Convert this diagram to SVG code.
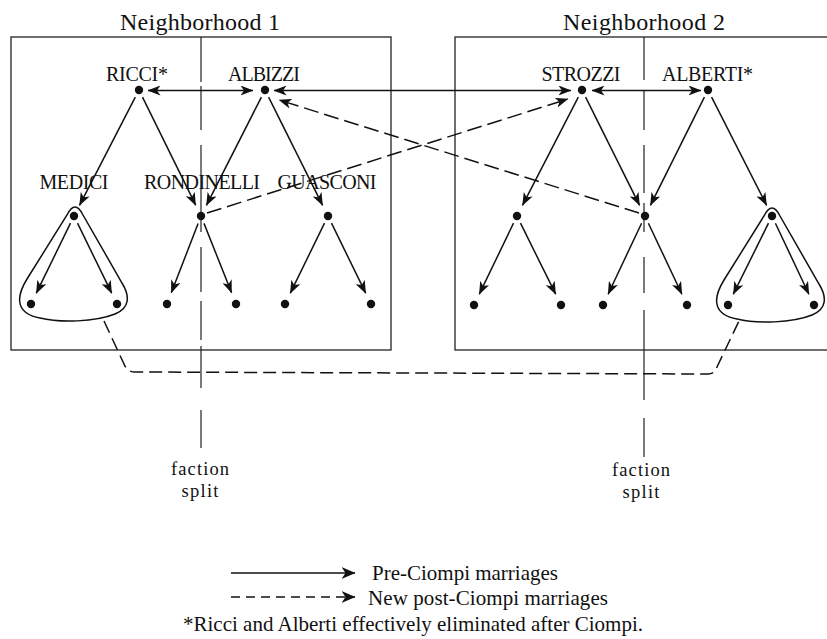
<svg xmlns="http://www.w3.org/2000/svg" width="827" height="639" viewBox="0 0 827 639">
<style>
  text { font-family: "Liberation Serif", "Times New Roman", serif; fill: #111; }
  .lbl { font-size: 20px; text-anchor: middle; }
  .fs { font-size: 18.5px; text-anchor: middle; }
  .title { font-size: 24px; text-anchor: middle; }
  .leg { font-size: 21px; }
  .dot { fill: #111; }
  .box { fill: none; stroke: #222; stroke-width: 1.3; }
  .split { fill: none; stroke: #222; stroke-width: 1.2; }
  .solid { fill: none; stroke: #111; stroke-width: 1.5; marker-end: url(#ah); }
  .both { fill: none; stroke: #111; stroke-width: 1.5; marker-start: url(#ah); marker-end: url(#ah); }
  .dash { fill: none; stroke: #111; stroke-width: 1.5; stroke-dasharray: 15 6; marker-end: url(#ah); }
  .dashlink { fill: none; stroke: #111; stroke-width: 1.5; stroke-dasharray: 13 6; }
  .loop { fill: none; stroke: #111; stroke-width: 1.5; }
</style>
<defs>
  <marker id="ah" viewBox="0 0 13 10" refX="12.5" refY="5" markerWidth="13" markerHeight="10" markerUnits="userSpaceOnUse" orient="auto-start-reverse">
    <path d="M0,0 L13,5 L0,10 L3.5,5 Z" fill="#111"/>
  </marker>
  <marker id="ahL" viewBox="0 0 14 12" refX="13.5" refY="6" markerWidth="14" markerHeight="12" markerUnits="userSpaceOnUse" orient="auto">
    <path d="M0,0 L14,6 L0,12 L4,6 Z" fill="#111"/>
  </marker>
  <path id="loopShape" d="M67,215 Q75,199 83,215 L122,283 C130,296 130,308 115,314 C95,322 60,323 40,318 C18,314 14,300 27,279 Z"/>
</defs>

<!-- Neighborhood boxes -->
<g id="neighborhood1">
  <rect class="box" x="11" y="37" width="380" height="313"/>
  <text class="title" x="200" y="30" textLength="160">Neighborhood 1</text>
</g>
<g id="neighborhood2">
  <rect class="box" x="455" y="37" width="380" height="313"/>
  <text class="title" x="644" y="30" textLength="162">Neighborhood 2</text>
</g>

<!-- Faction split lines -->
<g id="faction-split-1">
  <path class="split" d="M201,37 V82 M201,86 V130 M201,145 V232 M201,247 V292 M201,301 V340 M201,346 V388 M201,410 V448"/>
  <text class="fs" x="200" y="475" textLength="58">faction</text>
  <text class="fs" x="200" y="497" textLength="37">split</text>
</g>
<g id="faction-split-2">
  <path class="split" d="M644,37 V80 M644,90 V130 M644,145 V193 M644,203 V232 M644,257 V293 M644,310 V400 M644,418 V457"/>
  <text class="fs" x="641" y="476" textLength="58">faction</text>
  <text class="fs" x="641" y="498" textLength="37">split</text>
</g>

<!-- Connectors -->
<g id="connectors">
  <!-- top row marriages -->
  <path class="both" d="M148,90.5 H253"/>
  <path class="both" d="M274,90.5 H571"/>
  <path class="both" d="M592,90.5 H701"/>
  <!-- top to middle -->
  <path class="solid" d="M135.3,97.1 L79.5,205.3"/>
  <path class="solid" d="M142.5,97.2 L195.7,205.2"/>
  <path class="solid" d="M261.4,97.1 L206.4,205.3"/>
  <path class="solid" d="M268.6,97.2 L322.6,205.3"/>
  <path class="solid" d="M578.3,97.1 L522.5,205.3"/>
  <path class="solid" d="M585.6,97.2 L639.6,205.3"/>
  <path class="solid" d="M704.4,97.2 L650.4,205.3"/>
  <path class="solid" d="M711.6,97.1 L766.6,205.3"/>
  <!-- middle to bottom -->
  <path class="solid" d="M70.5,223.2 L36.3,293.2"/>
  <path class="solid" d="M77.5,223.2 L111.7,293.2"/>
  <path class="solid" d="M198.1,223.5 L171.3,292.8"/>
  <path class="solid" d="M204,223.4 L231.6,292.8"/>
  <path class="solid" d="M324.5,223.2 L290.3,293.2"/>
  <path class="solid" d="M331.5,223.2 L365.7,293.2"/>
  <path class="solid" d="M513.5,223.2 L479.3,294.2"/>
  <path class="solid" d="M520.5,223.2 L555.7,294.2"/>
  <path class="solid" d="M641.6,223.2 L608.1,294.2"/>
  <path class="solid" d="M648.4,223.2 L681.9,294.2"/>
  <path class="solid" d="M768.5,223.2 L733.3,294.2"/>
  <path class="solid" d="M775.4,223.2 L808.9,294.2"/>
  <!-- new post-Ciompi marriages -->
  <path class="dash" d="M207,213 L568,99"/>
  <path class="dash" d="M639,213 L279,100"/>
  <path class="dashlink" d="M104,321 L124,364 Q127,372 135,372 L708,374 Q715,374 717,367 L739,321"/>
</g>

<!-- Nodes -->
<g id="ricci">
  <circle class="dot" cx="139" cy="90" r="4.2"/>
  <text class="lbl" x="106" y="81" style="text-anchor:start" textLength="62">RICCI*</text>
</g>
<g id="albizzi">
  <circle class="dot" cx="265" cy="90" r="4.2"/>
  <text class="lbl" x="264" y="81" textLength="72">ALBIZZI</text>
</g>
<g id="strozzi">
  <circle class="dot" cx="582" cy="90" r="4.2"/>
  <text class="lbl" x="581" y="81" textLength="79">STROZZI</text>
</g>
<g id="alberti">
  <circle class="dot" cx="708" cy="90" r="4.2"/>
  <text class="lbl" x="662" y="81" style="text-anchor:start" textLength="91">ALBERTI*</text>
</g>
<g id="medici">
  <use href="#loopShape" class="loop"/>
  <circle class="dot" cx="74" cy="216" r="4.2"/>
  <text class="lbl" x="74" y="189" textLength="69">MEDICI</text>
  <circle class="dot" cx="31" cy="304" r="4.2"/>
  <circle class="dot" cx="117" cy="304" r="4.2"/>
</g>
<g id="rondinelli">
  <circle class="dot" cx="201" cy="216" r="4.2"/>
  <text class="lbl" x="202" y="189" textLength="116">RONDINELLI</text>
  <circle class="dot" cx="167" cy="304" r="4.2"/>
  <circle class="dot" cx="236" cy="304" r="4.2"/>
</g>
<g id="guasconi">
  <circle class="dot" cx="328" cy="216" r="4.2"/>
  <text class="lbl" x="327" y="189" textLength="99">GUASCONI</text>
  <circle class="dot" cx="285" cy="304" r="4.2"/>
  <circle class="dot" cx="371" cy="304" r="4.2"/>
</g>
<g id="strozzi-child1">
  <circle class="dot" cx="517" cy="216" r="4.2"/>
  <circle class="dot" cx="474" cy="305" r="4.2"/>
  <circle class="dot" cx="561" cy="305" r="4.2"/>
</g>
<g id="strozzi-alberti-child">
  <circle class="dot" cx="645" cy="216" r="4.2"/>
  <circle class="dot" cx="603" cy="305" r="4.2"/>
  <circle class="dot" cx="687" cy="305" r="4.2"/>
</g>
<g id="alberti-child">
  <use href="#loopShape" class="loop" transform="translate(697,1)"/>
  <circle class="dot" cx="772" cy="216" r="4.2"/>
  <circle class="dot" cx="728" cy="305" r="4.2"/>
  <circle class="dot" cx="814" cy="305" r="4.2"/>
</g>

<!-- Legend -->
<g id="legend">
  <path d="M231,573 H355" fill="none" stroke="#111" stroke-width="1.5" marker-end="url(#ahL)"/>
  <path d="M231,597 H355" fill="none" stroke="#111" stroke-width="1.5" stroke-dasharray="9 6" marker-end="url(#ahL)"/>
  <text class="leg" x="372" y="580" textLength="186">Pre-Ciompi marriages</text>
  <text class="leg" x="368" y="605" textLength="240">New post-Ciompi marriages</text>
  <text class="leg" x="183" y="631" textLength="460">*Ricci and Alberti effectively eliminated after Ciompi.</text>
</g>
</svg>
